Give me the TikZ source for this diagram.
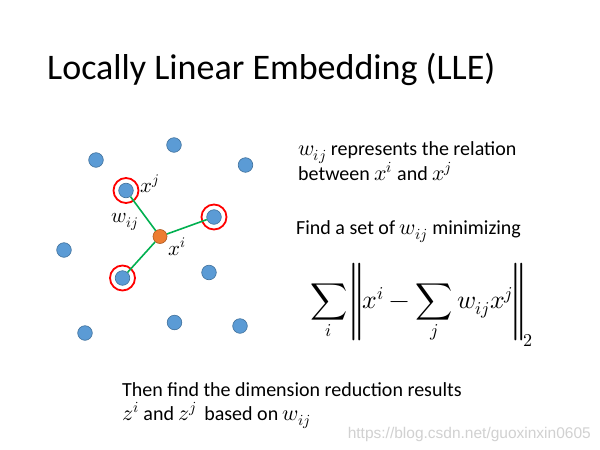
\documentclass[tikz,border=0pt]{standalone}
\usepackage{fontspec}
\usepackage{unicode-math}
\setmainfont{Carlito}
\setmathfont{Latin Modern Math}[Scale=1.1]
\newfontfamily\wmfont{Liberation Sans}
\usetikzlibrary{calc}
\definecolor{dotblue}{HTML}{5B9BD5}
\definecolor{dotedge}{HTML}{41719C}
\definecolor{dotorange}{HTML}{ED7D31}
\definecolor{dotorangeedge}{HTML}{AE5A21}
\definecolor{linkgreen}{HTML}{00B050}
\tikzset{
  bdot/.style={circle, fill=dotblue, draw=dotedge, line width=0.6pt, minimum size=14.6pt, inner sep=0pt},
  odot/.style={circle, fill=dotorange, draw=dotorangeedge, line width=0.6pt, minimum size=14pt, inner sep=0pt},
  ring/.style={circle, draw=red, line width=1.8pt, minimum size=25pt, inner sep=0pt},
  link/.style={draw=linkgreen, line width=1.6pt},
  txt/.style={anchor=base west, inner sep=0pt, font=\fontsize{20}{24}\selectfont},
  lbl/.style={inner sep=0pt, font=\fontsize{19}{24}\selectfont},
}
\begin{document}
\begin{tikzpicture}[x=1pt,y=-1pt]
\useasboundingbox (0,0) rectangle (600,450);
\fill[white] (0,0) rectangle (600,450);
% title
\node[anchor=base west, inner sep=0pt, font=\fontsize{36}{40}\selectfont] (title) at (47,79) {Locally Linear Embedding (LLE)};
% dots
\node[bdot] (d1) at (96,160) {};
\node[bdot] (d2) at (174,145) {};
\node[bdot] (d3) at (245.5,165) {};
\node[bdot] (dj) at (126,190.5) {};
\node[bdot] (d5) at (214,217) {};
\node[bdot] (d6) at (64,250) {};
\node[bdot] (d7) at (209,272.5) {};
\node[bdot] (d8) at (122.5,278) {};
\node[bdot] (d9) at (174.5,322.5) {};
\node[bdot] (d10) at (240,326) {};
\node[bdot] (d11) at (85,333) {};
\node[odot] (xi) at (160,236.5) {};
\node[ring] (r1) at (dj) {};
\node[ring] (r2) at (d5) {};
\node[ring] (r3) at (d8) {};
\draw[link] (xi) -- (dj);
\draw[link] (xi) -- (d5);
\draw[link] (xi) -- (d8);
% labels near dots
\node[lbl] (lxj) at (150,184) {$x^j$};
\node[lbl] (lw) at (125,222) {$w_{ij}$};
\node[lbl] (lxi) at (177,247) {$x^i$};
% right texts
\node[txt] (t1) at (298,155) {$w_{ij}$ represents the relation};
\node[txt] (t2) at (298,180) {between $x^i$ and $x^j$};
\node[txt] (t3) at (296,234) {Find a set of $w_{ij}$ minimizing};
\node[anchor=west, inner sep=0pt, font=\fontsize{23.5}{30}\selectfont] (formula) at (310,305)
  {$\displaystyle \sum_i \left\| x^i - \sum_j w_{ij}x^j \right\|_2$};
% bottom texts
\node[txt] (b1) at (122,396) {Then find the dimension reduction results};
\node[txt] (b2) at (122,420) {$z^i$ and $z^j$\, based on $w_{ij}$};
% watermark
\node[anchor=base east, inner sep=0pt, text=black!18, font=\wmfont\fontsize{15.5}{17}\selectfont] (wm) at (591,438) {https://blog.csdn.net/guoxinxin0605};
\end{tikzpicture}
\end{document}
